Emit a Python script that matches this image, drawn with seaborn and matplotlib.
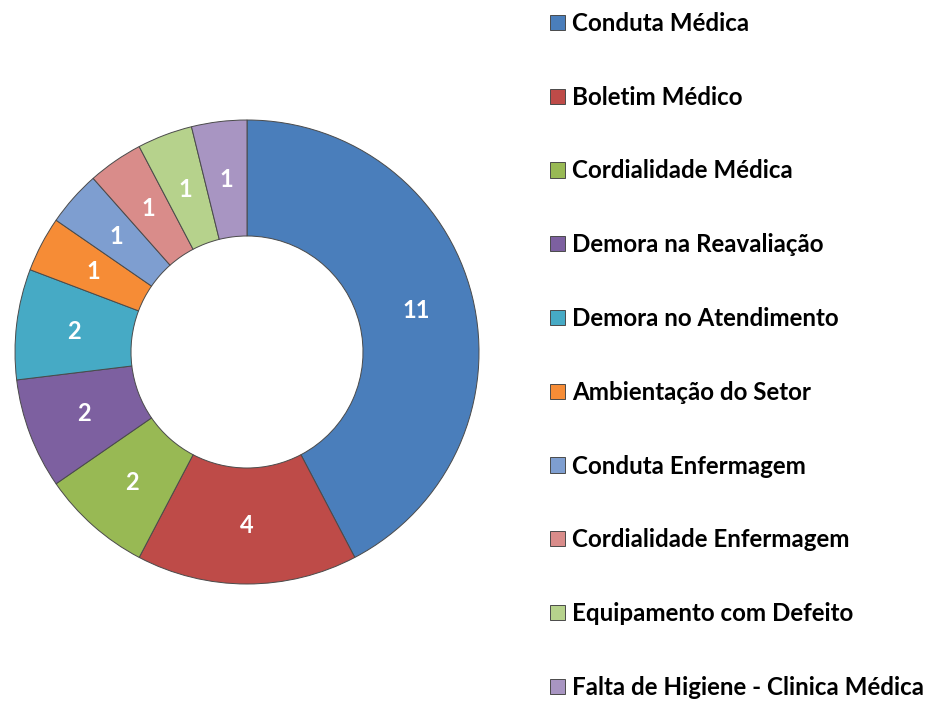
import matplotlib
matplotlib.use("Agg")
import matplotlib.pyplot as plt
import seaborn as sns

categories = ["Conduta Médica", "Boletim Médico", "Cordialidade Médica",
              "Demora na Reavaliação", "Demora no Atendimento",
              "Ambientação do Setor", "Conduta Enfermagem",
              "Cordialidade Enfermagem", "Equipamento com Defeito",
              "Falta de Higiene - Clinica Médica"]
values = [11, 4, 2, 2, 2, 1, 1, 1, 1, 1]
colors = ["#4A7EBB", "#BE4B48", "#98B954", "#7D60A0", "#46AAC5",
          "#F68C36", "#7E9ED0", "#D98C8A", "#B6D28C", "#A895C2"]

sns.set_theme(style="white")
plt.rcParams["font.family"] = ["Lato", "DejaVu Sans"]

fig = plt.figure(figsize=(9.34, 7.01), dpi=100)
ax = fig.add_axes([15 / 934, 117 / 701, 464 / 934, 464 / 701])

wedges, texts, autotexts = ax.pie(
    values, colors=colors, startangle=90, counterclock=False,
    radius=1.0, autopct=lambda p: "%d" % round(p * sum(values) / 100),
    pctdistance=0.75,
    wedgeprops=dict(width=0.5, edgecolor="#4a4a4a", linewidth=0.7),
    textprops=dict(color="white", fontsize=17, fontweight="bold"))
ax.set_aspect("equal")
ax.set_xlim(-1, 1)
ax.set_ylim(-1, 1)
ax.axis("off")

leg = fig.legend(wedges, categories, loc="upper left",
                 bbox_to_anchor=(550 / 934, 1 - 12 / 701),
                 frameon=False, fontsize=17.4, labelspacing=2.1,
                 handlelength=0.6, handleheight=0.6, handletextpad=0.3,
                 borderaxespad=0, borderpad=0)
for t in leg.get_texts():
    t.set_fontweight("bold")
    t.set_color("black")
for h in leg.legend_handles:
    h.set_edgecolor("#4a4a4a")
    h.set_linewidth(0.7)

fig.savefig("out.png", dpi=100)
